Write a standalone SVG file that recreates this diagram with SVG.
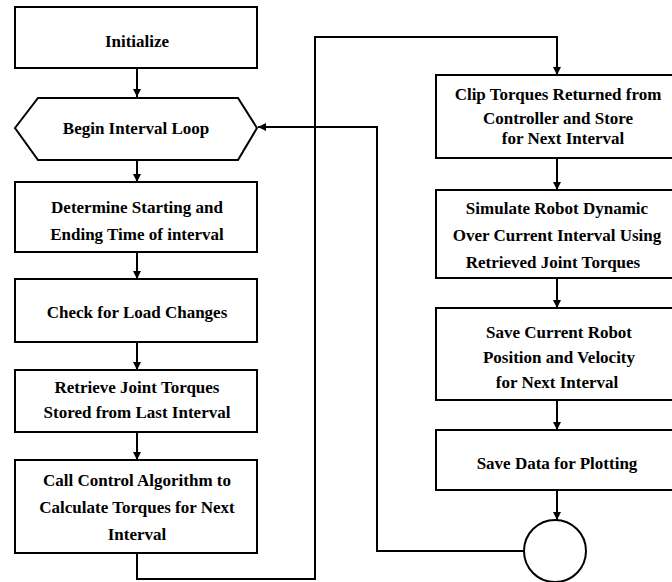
<svg xmlns="http://www.w3.org/2000/svg" width="672" height="582" viewBox="0 0 672 582">
<defs>
<style>
.box{fill:#fff;stroke:#000;stroke-width:2}
.ln{fill:none;stroke:#000;stroke-width:2}
.t{font-family:'Liberation Serif','DejaVu Serif',serif;font-weight:bold;font-size:17px;text-anchor:middle;fill:#000}
</style>
<marker id="ah" viewBox="0 0 8 10" refX="8" refY="5" markerWidth="8" markerHeight="10" markerUnits="userSpaceOnUse" orient="auto">
<path d="M0,1 L8,5 L0,9 Z" fill="#000"/>
</marker>
</defs>
<rect width="672" height="582" fill="#fff"/>
<g id="connectors">
<path class="ln" d="M137,68 V97" marker-end="url(#ah)"/>
<path class="ln" d="M137,160 V182" marker-end="url(#ah)"/>
<path class="ln" d="M137,252 V279" marker-end="url(#ah)"/>
<path class="ln" d="M137,342 V370" marker-end="url(#ah)"/>
<path class="ln" d="M137,432 V460" marker-end="url(#ah)"/>
<path class="ln" d="M137,553 V579 H315 V37 H557 V75" marker-end="url(#ah)"/>
<path class="ln" d="M557,158 V190" marker-end="url(#ah)"/>
<path class="ln" d="M557,278 V308" marker-end="url(#ah)"/>
<path class="ln" d="M557,400 V430" marker-end="url(#ah)"/>
<path class="ln" d="M557,490 V520" marker-end="url(#ah)"/>
<path class="ln" d="M524,551 H377 V127 H258" marker-end="url(#ah)"/>
</g>
<g class="t" font-family="Liberation Serif, serif">
<g id="initialize"><rect class="box" x="15" y="7" width="242" height="61"/><text x="137" y="47">Initialize</text></g>
<g id="begin-loop"><polygon class="box" points="15,128 38,98 238,98 257,128 238,160 38,160"/><text x="136" y="134">Begin Interval Loop</text></g>
<g id="determine"><rect class="box" x="15" y="182" width="242" height="70"/><text x="137" y="213">Determine Starting and</text><text x="137" y="240">Ending Time of interval</text></g>
<g id="check-load"><rect class="box" x="15" y="279" width="242" height="63"/><text x="137" y="318">Check for Load Changes</text></g>
<g id="retrieve"><rect class="box" x="15" y="370" width="242" height="62"/><text x="137" y="393">Retrieve Joint Torques</text><text x="137" y="418">Stored from Last Interval</text></g>
<g id="call-control"><rect class="box" x="15" y="460" width="242" height="93"/><text x="137" y="486">Call Control Algorithm to</text><text x="137" y="513">Calculate Torques for Next</text><text x="137" y="540">Interval</text></g>
<g id="clip"><rect class="box" x="436" y="75" width="240" height="83"/><text x="558" y="100">Clip Torques Returned from</text><text x="558" y="124">Controller and Store</text><text x="563" y="144">for Next Interval</text></g>
<g id="simulate"><rect class="box" x="436" y="190" width="240" height="88"/><text x="557" y="214">Simulate Robot Dynamic</text><text x="557" y="241">Over Current Interval Using</text><text x="553" y="268">Retrieved Joint Torques</text></g>
<g id="save-current"><rect class="box" x="436" y="308" width="240" height="92"/><text x="559" y="338">Save Current Robot</text><text x="559" y="363">Position and Velocity</text><text x="557" y="388">for Next Interval</text></g>
<g id="save-data"><rect class="box" x="436" y="430" width="240" height="60"/><text x="557" y="469">Save Data for Plotting</text></g>
<g id="connector-circle"><circle class="box" cx="555" cy="551" r="31"/></g>
</g>
</svg>
